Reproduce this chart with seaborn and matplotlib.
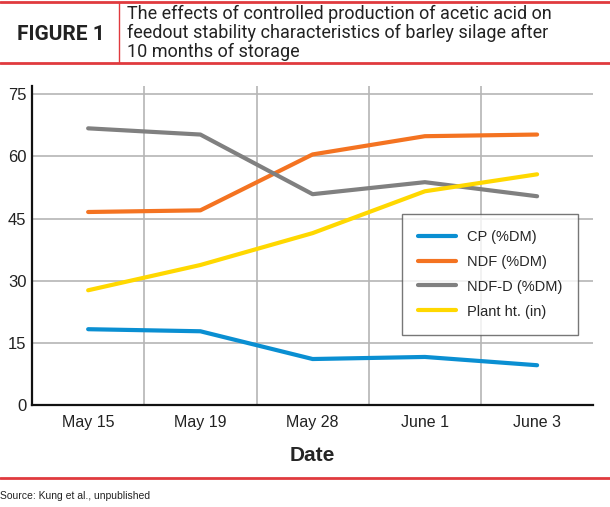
import pandas as pd
import matplotlib.pyplot as plt
import seaborn as sns
from matplotlib.lines import Line2D

# Data
dates = ['May 15', 'May 19', 'May 28', 'June 1', 'June 3']
cp = [18.3, 17.8, 11.1, 11.6, 9.6]
ndf = [46.6, 47.0, 60.5, 64.9, 65.3]
ndf_d = [66.8, 65.3, 50.9, 53.8, 50.4]
plant_ht = [27.7, 33.8, 41.5, 51.6, 55.7]

series_names = ['CP (%DM)', 'NDF (%DM)', 'NDF-D (%DM)', 'Plant ht. (in)']
colors = ['#0a8fd2', '#f47321', '#808080', '#ffd800']

df = pd.DataFrame({'Date': dates, 'CP (%DM)': cp, 'NDF (%DM)': ndf,
                   'NDF-D (%DM)': ndf_d, 'Plant ht. (in)': plant_ht})
long_df = df.melt(id_vars='Date', var_name='Series', value_name='Value')

sns.set_theme(style='white')
plt.rcParams['font.family'] = ['Liberation Sans Narrow', 'Liberation Sans', 'DejaVu Sans']

fig = plt.figure(figsize=(6.1, 5.07), dpi=100)
ax = fig.add_axes([0.0525, 0.2012, 0.92, 0.629])

sns.lineplot(data=long_df, x='Date', y='Value', hue='Series', hue_order=series_names,
             palette=colors, linewidth=3, sort=False, ax=ax, legend=False)

ax.set_xlim(-0.5, 4.5)
ax.set_ylim(0, 77)
ax.set_yticks([0, 15, 30, 45, 60, 75])
ax.set_xticks(range(len(dates)))
ax.set_xticklabels(dates)
ax.tick_params(axis='both', labelsize=11.5, colors='#222222', length=0, pad=7)
ax.tick_params(axis='y', labelsize=12, pad=4)

# grid: horizontal at y ticks, vertical between categories
for y in [15, 30, 45, 60, 75]:
    ax.axhline(y, color='#b5b5b5', lw=1.2, zorder=0)
for x in [0.5, 1.5, 2.5, 3.5]:
    ax.axvline(x, color='#b5b5b5', lw=1.2, zorder=0)

for s in ['top', 'right']:
    ax.spines[s].set_visible(False)
ax.spines['left'].set_color('#111111')
ax.spines['bottom'].set_color('#111111')
ax.spines['left'].set_linewidth(1.6)
ax.spines['bottom'].set_linewidth(1.6)

ax.set_ylabel('')
ax.set_xlabel('Date', fontsize=15, fontweight='bold', labelpad=12)

handles = [Line2D([0], [0], color=c, lw=3) for c in colors]
leg = ax.legend(handles, series_names, loc='upper left', bbox_to_anchor=(0.66, 0.60),
                fontsize=10.5, frameon=True, fancybox=False, handlelength=2.6,
                borderpad=1.1, labelspacing=0.75, handletextpad=0.7, borderaxespad=0)
leg.get_frame().set_edgecolor('#555555')
leg.get_frame().set_linewidth(1.0)

# header
red = '#e03a3e'
fig.add_artist(Line2D([0, 1], [1 - 2 / 507, 1 - 2 / 507], color=red, lw=2))
fig.add_artist(Line2D([0, 1], [1 - 63 / 507, 1 - 63 / 507], color=red, lw=2))
fig.add_artist(Line2D([119 / 610, 119 / 610], [1 - 63 / 507, 1 - 2 / 507], color=red, lw=1))
fig.add_artist(Line2D([0, 1], [1 - 478 / 507, 1 - 478 / 507], color=red, lw=2))

fig.text(17 / 610, 1 - 34 / 507, 'FIGURE 1', fontsize=15, fontweight='bold',
         family=['Roboto', 'DejaVu Sans'], color='#222222', va='center', ha='left')
fig.text(127 / 610, 1 - 33 / 507,
         'The effects of controlled production of acetic acid on\n'
         'feedout stability characteristics of barley silage after\n'
         '10 months of storage',
         fontsize=13, family=['Roboto', 'DejaVu Sans'], color='#222222',
         va='center', ha='left', linespacing=1.08)
fig.text(0, 1 - 496 / 507, 'Source: Kung et al., unpublished', fontsize=7.5,
         family=['Liberation Sans', 'DejaVu Sans'], color='#222222', va='center', ha='left')

fig.savefig('out.png', dpi=100)
